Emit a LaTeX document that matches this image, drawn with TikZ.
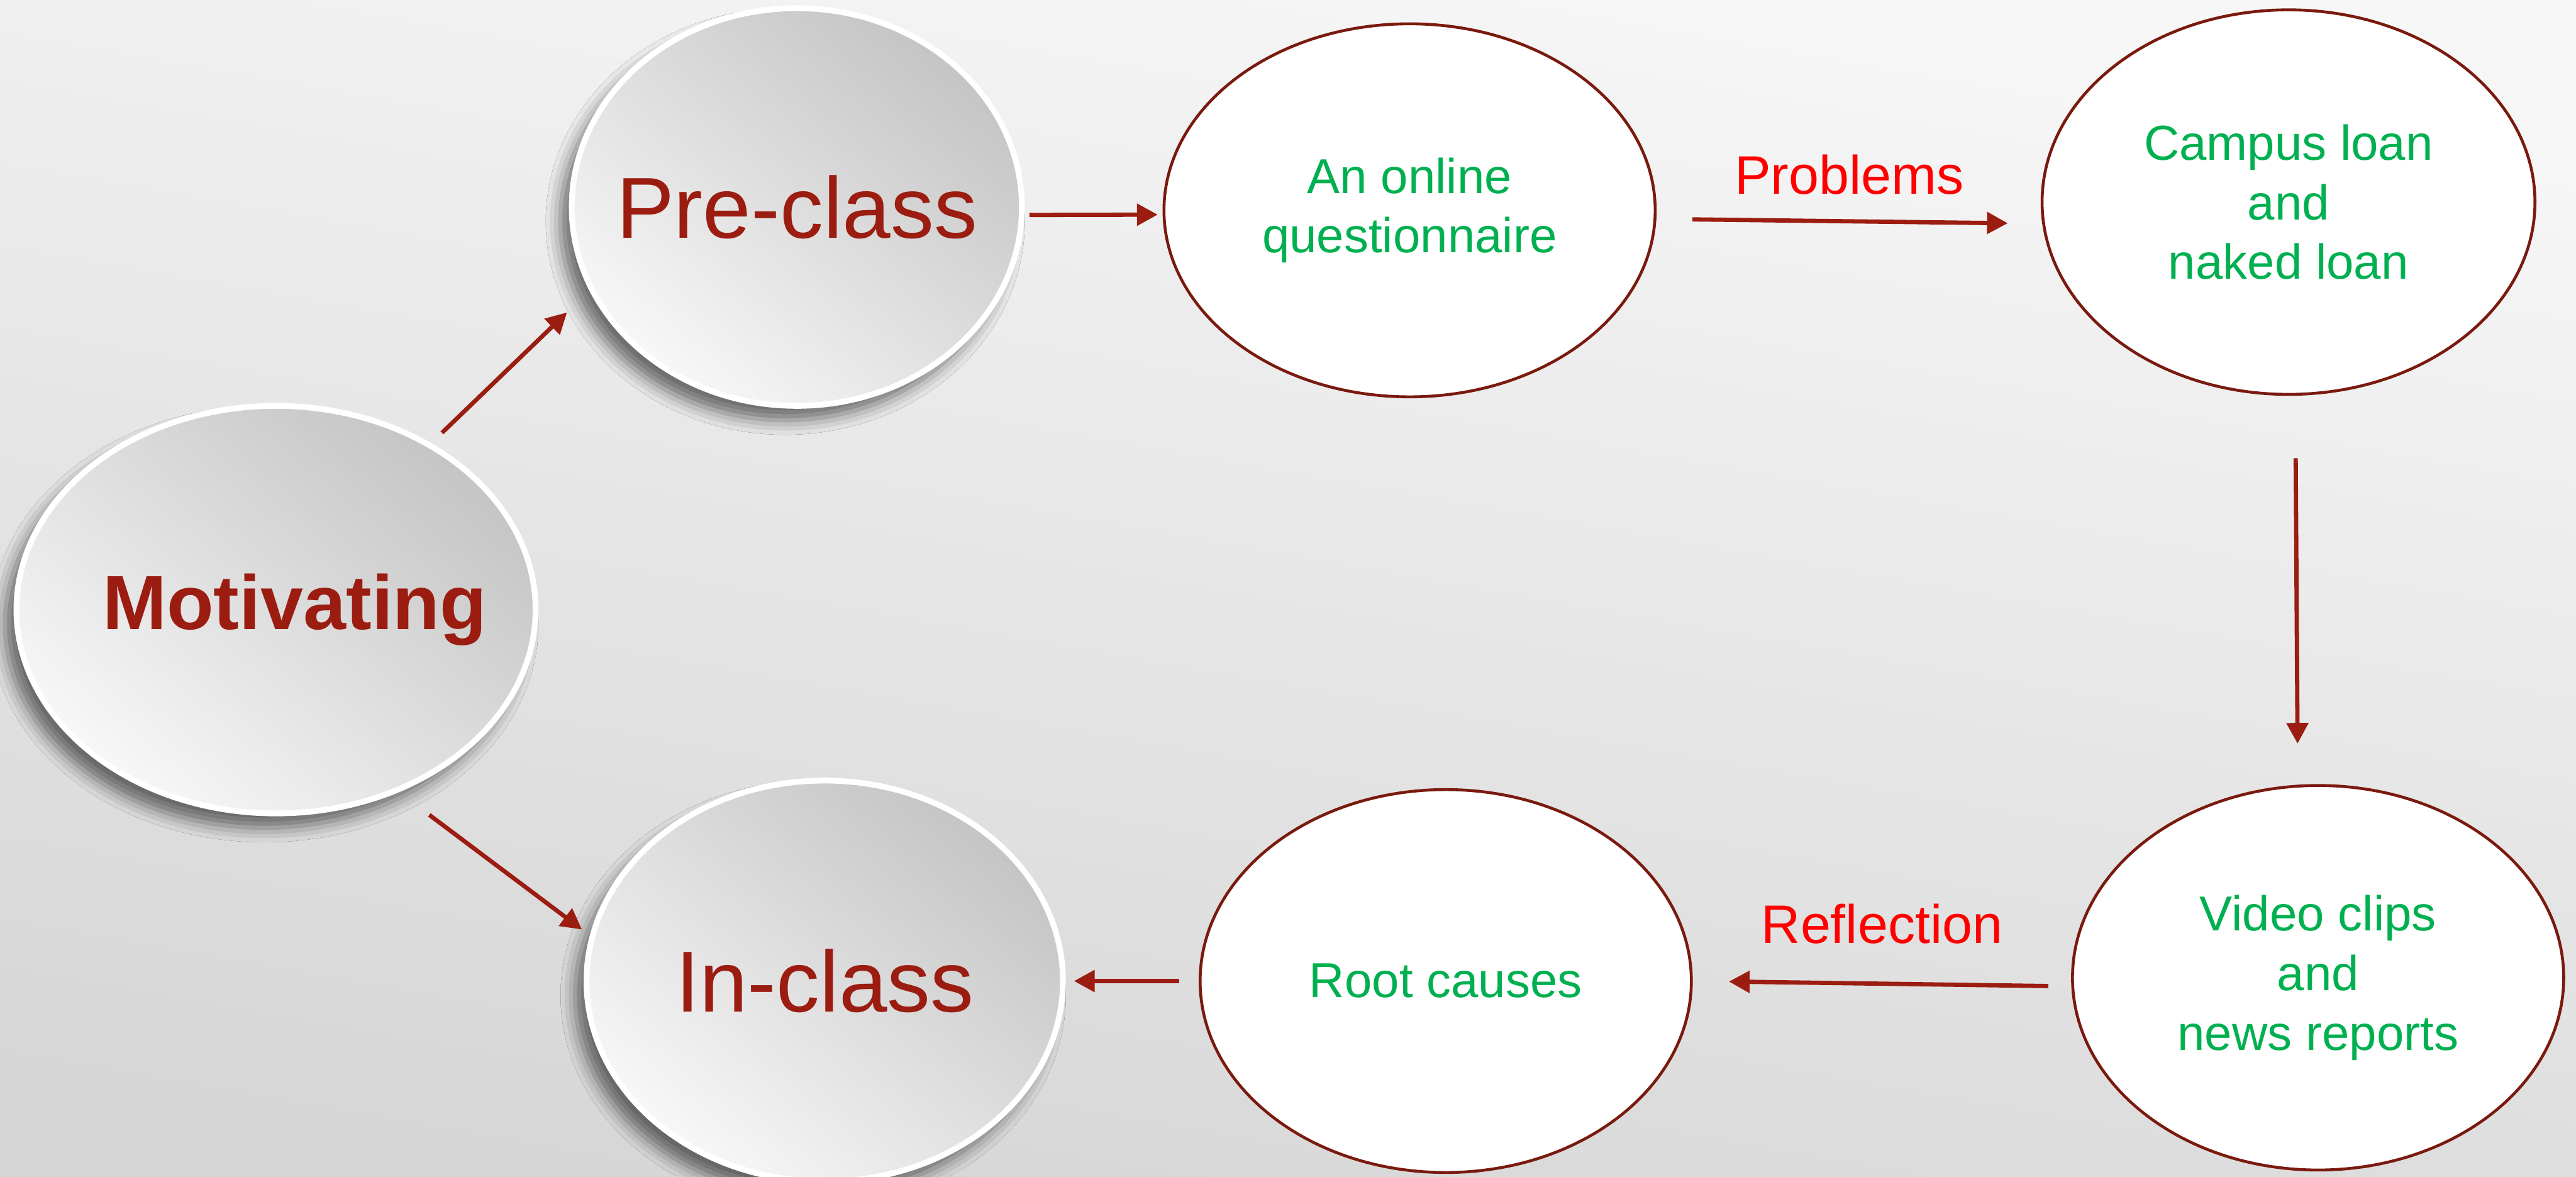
\documentclass[tikz,border=0pt]{standalone}
\usepackage{fontspec}
\setmainfont{Liberation Sans}
\usetikzlibrary{shapes.geometric,arrows.meta,shadows.blur}
\definecolor{darkred}{HTML}{9B1C10}
\definecolor{ringred}{HTML}{7A1A0E}
\definecolor{leafgreen}{HTML}{00B050}

\begin{document}
\begin{tikzpicture}[
			>={Triangle[width=1.3mm,length=1.26mm]},
			plate/.style = {ellipse, inner sep=0pt, draw=white, line width=1pt,
				top color=black!23, bottom color=black!3, shading angle=-40,
				blur shadow={shadow xshift=-2pt, shadow yshift=-2.5pt, shadow blur radius=2.5pt, shadow opacity=55},
				text=darkred, font=\fontsize{15}{18}\selectfont},
			main/.style = {ellipse, inner sep=0pt, draw=ringred, line width=0.5pt, fill=white,
				text=leafgreen, align=center, font=\fontsize{8.5}{10.3}\selectfont},
			lbl/.style = {inner sep=0pt, text=red, font=\fontsize{9.4}{11}\selectfont},
			arr/.style = {->, draw=darkred, line width=0.74pt}
		]
		\useasboundingbox (0,0) rectangle (15.68,7.16);
		\shade[top color=black!3, bottom color=black!16, shading angle=-10] (0,0) rectangle (15.68,7.16);
		% text in zero-width boxes so that the ellipses keep their sizes
		\node[plate, minimum width=3.16cm, minimum height=2.48cm, font=\fontsize{13.3}{16}\selectfont\bfseries] (1) at (1.68,3.45) {\makebox[0pt]{\hspace{0.23cm}Motivating}};
		\node[plate, minimum width=2.74cm, minimum height=2.42cm] (2) at (4.85,5.90) {\makebox[0pt]{Pre-class}};
		\node[plate, minimum width=2.90cm, minimum height=2.44cm] (3) at (5.02,1.19) {\makebox[0pt]{In-class}};
		\node[main, minimum width=2.99cm, minimum height=2.27cm] (4) at (8.58,5.88) {An online\\questionnaire};
		\node[main, minimum width=3.00cm, minimum height=2.34cm] (5) at (13.93,5.93) {Campus loan\\and\\naked loan};
		\node[main, minimum width=2.99cm, minimum height=2.34cm] (6) at (14.11,1.21) {Video clips\\and\\news reports};
		\node[main, minimum width=2.99cm, minimum height=2.33cm] (7) at (8.80,1.19) {Root causes};
		\draw[arr, shorten <=0.9mm, shorten >=1.9mm] (1.47) -- (2.202);
		\draw[arr, shorten <=2.3mm, shorten >=0.6mm] (1.304) -- (3.169);
		\draw[arr, shorten <=0.3mm, shorten >=0.3mm] (2.358) -- (4.181);
		\draw[arr, shorten <=2.2mm, shorten >=2.1mm] (4.358) -- (5.185) node[lbl, midway, above=1.5mm] {Problems};
		\draw[arr, shorten <=3.8mm, shorten >=2.5mm] (5.272) -- (6.96);
		\draw[arr, shorten <=1.4mm, shorten >=2.2mm] (6.182) -- (7.0) node[lbl, midway, above=2.3mm] {Reflection};
		\draw[arr, shorten <=1.2mm, shorten >=0.5mm] (7.180) -- (3.0);
	\end{tikzpicture}
\end{document}
